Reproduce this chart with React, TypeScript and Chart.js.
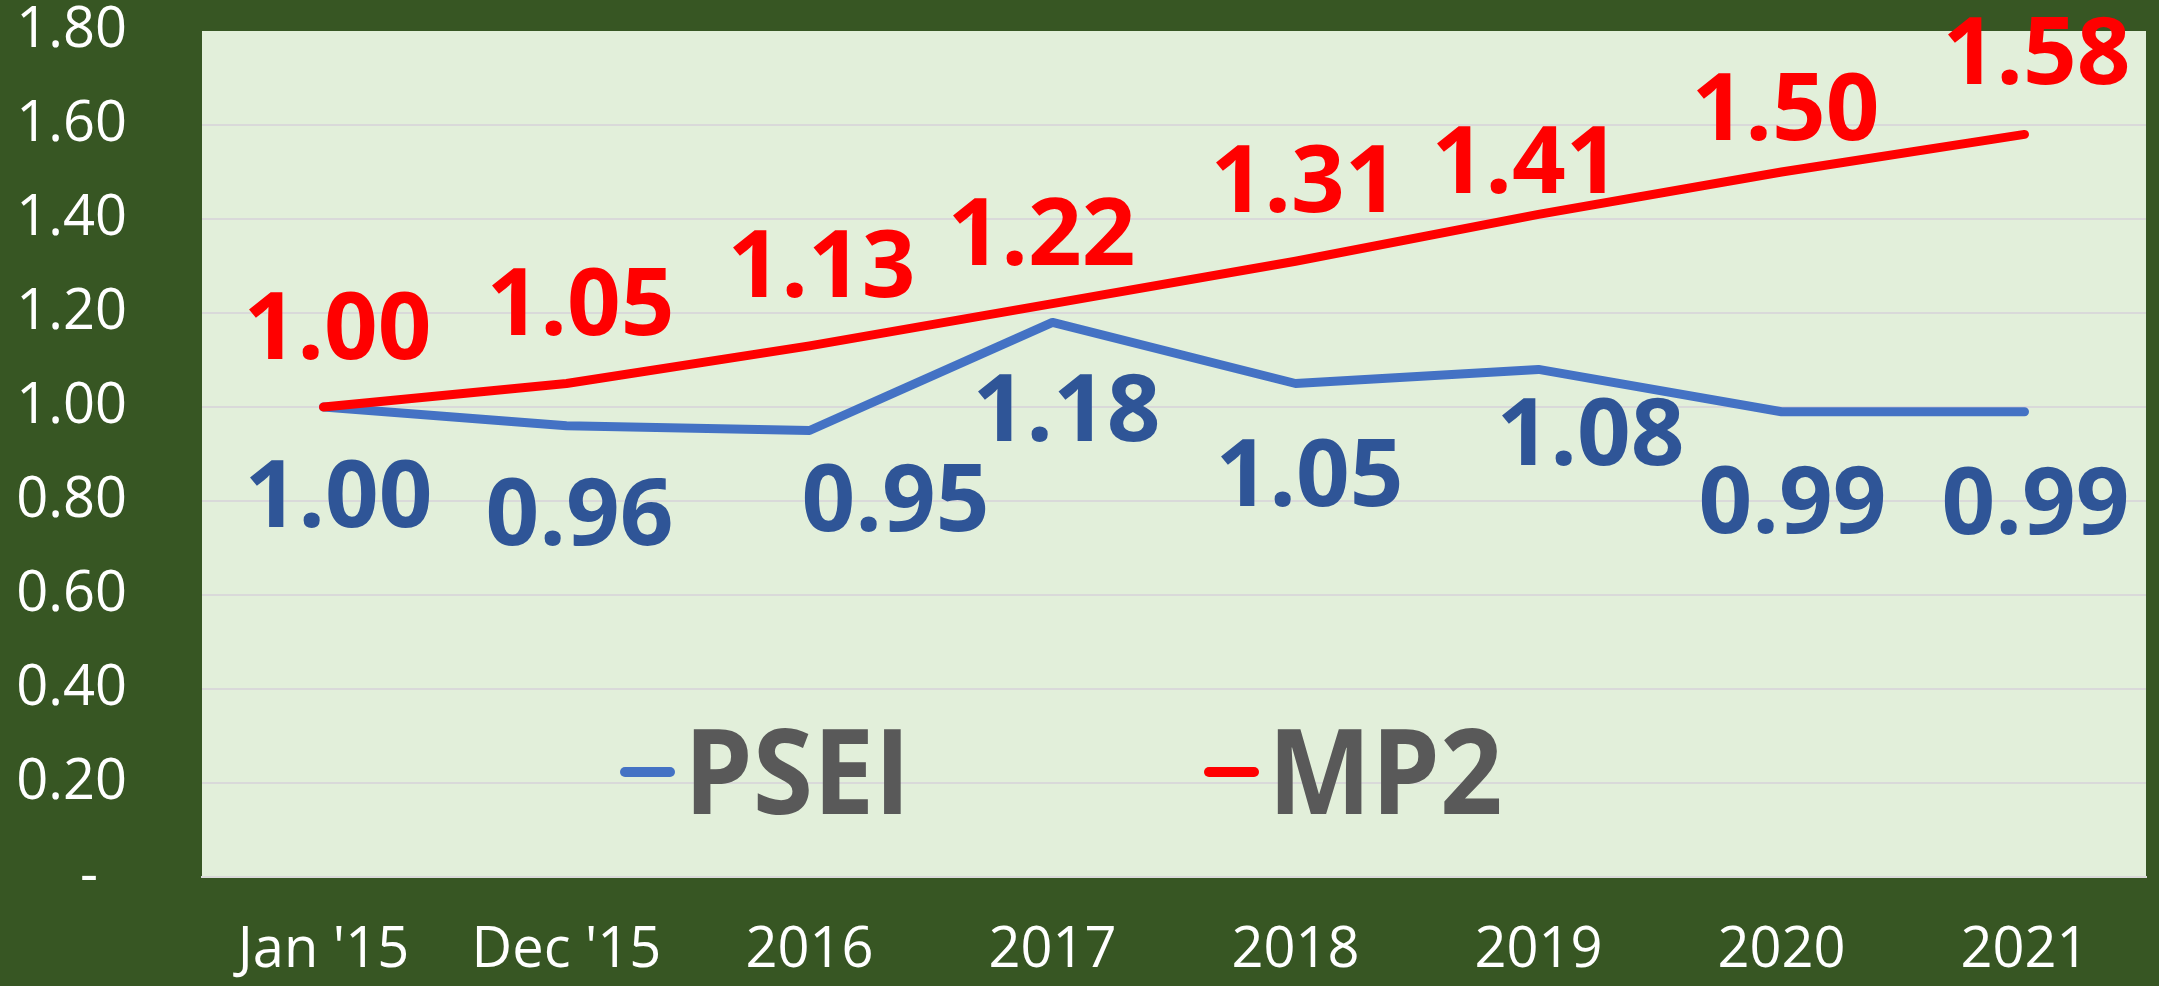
import React, { useEffect, useRef } from "react";
import { Chart, registerables } from "chart.js";

Chart.register(...registerables);

// ---- data ----
const categories = ["Jan '15", "Dec '15", "2016", "2017", "2018", "2019", "2020", "2021"];
const pseiValues = [1.0, 0.96, 0.95, 1.18, 1.05, 1.08, 0.99, 0.99];
const mp2Values = [1.0, 1.05, 1.13, 1.22, 1.31, 1.41, 1.5, 1.58];
const yTickValues = [0, 0.2, 0.4, 0.6, 0.8, 1.0, 1.2, 1.4, 1.6, 1.8];
const yTickLabels = ["-  ", "0.20", "0.40", "0.60", "0.80", "1.00", "1.20", "1.40", "1.60", "1.80"];
const seriesNames = ["PSEI", "MP2"];

// ---- style: label offsets (dx, dy of label centre from its point) ----
const pseiLabelOffsets = [[15, 86], [13, 85], [86, 66], [14, 85], [14, 88], [52, 62], [11, 87], [11, 88]];
const mp2LabelOffsets = [[14, -82], [14, -83], [12, -83], [-11, -73], [9, -83], [-13, -55], [4, -66], [12, -84]];

const FONT = "'Open Sans', sans-serif";
const DARK = "#375623";
const LIGHT = "#E2EFDA";
const GRID = "#D9D9D9";
const BLUE = "#4472C4";
const RED = "#FF0000";
const PSEI_LABEL = "#2F5597";

const bgPlugin = {
  id: "bgPlugin",
  beforeDraw(chart: any) {
    const { ctx, chartArea: a, width, height } = chart;
    ctx.save();
    ctx.fillStyle = DARK;
    ctx.fillRect(0, 0, width, height);
    ctx.fillStyle = LIGHT;
    ctx.fillRect(a.left, a.top, a.right - a.left, a.bottom - a.top);
    ctx.restore();
  },
};

const labelPlugin = {
  id: "labelPlugin",
  afterDatasetsDraw(chart: any) {
    const { ctx } = chart;
    const offsets = [pseiLabelOffsets, mp2LabelOffsets];
    const colors = [PSEI_LABEL, RED];
    ctx.save();
    ctx.font = `bold 94px ${FONT}`;
    ctx.textAlign = "center";
    ctx.textBaseline = "alphabetic";
    chart.data.datasets.forEach((ds: any, di: number) => {
      const meta = chart.getDatasetMeta(di);
      ctx.fillStyle = colors[di];
      meta.data.forEach((pt: any, i: number) => {
        const [dx, dy] = offsets[di][i];
        const text = Number(ds.data[i]).toFixed(2);
        ctx.fillText(text, pt.x + dx, pt.y + dy + 34);
      });
    });
    ctx.restore();
  },
};

const legendPlugin = {
  id: "legendPlugin",
  afterDraw(chart: any) {
    const { ctx, chartArea: a } = chart;
    const startX = a.left + 418;
    const cy = a.top + 741;
    const spacing = 584;
    ctx.save();
    chart.data.datasets.forEach((ds: any, i: number) => {
      const x = startX + i * spacing;
      ctx.strokeStyle = ds.borderColor;
      ctx.lineWidth = 10;
      ctx.lineCap = "round";
      ctx.beginPath();
      ctx.moveTo(x + 5, cy);
      ctx.lineTo(x + 50, cy);
      ctx.stroke();
      ctx.save();
      ctx.translate(x + 64, cy + 42);
      ctx.scale(0.92, 1);
      ctx.font = `bold 119px ${FONT}`;
      ctx.fillStyle = "#595959";
      ctx.textAlign = "left";
      ctx.textBaseline = "alphabetic";
      ctx.fillText(ds.label, 0, 0);
      ctx.restore();
    });
    ctx.restore();
  },
};

export default function App() {
  const canvasRef = useRef<HTMLCanvasElement | null>(null);

  useEffect(() => {
    document.body.style.margin = "0";
    document.body.style.overflow = "hidden";
    const canvas = canvasRef.current;
    if (!canvas) return;
    const chart = new Chart(canvas, {
      type: "line",
      data: {
        labels: categories,
        datasets: [
          {
            label: seriesNames[0],
            data: pseiValues,
            borderColor: BLUE,
            backgroundColor: BLUE,
            borderWidth: 9,
            pointRadius: 0,
            borderCapStyle: "round",
            borderJoinStyle: "round",
            tension: 0,
            order: 1,
          },
          {
            label: seriesNames[1],
            data: mp2Values,
            borderColor: RED,
            backgroundColor: RED,
            borderWidth: 9,
            pointRadius: 0,
            borderCapStyle: "round",
            borderJoinStyle: "round",
            tension: 0,
            order: 0,
          },
        ],
      },
      options: {
        animation: false,
        responsive: true,
        maintainAspectRatio: false,
        layout: { padding: { left: 0, top: 31, right: 13, bottom: 0 } },
        plugins: {
          legend: { display: false },
          tooltip: { enabled: false },
        },
        scales: {
          x: {
            offset: true,
            grid: { display: false, drawTicks: false },
            border: { display: true, color: GRID, width: 2 },
            ticks: {
              color: "#FFFFFF",
              font: { family: FONT, size: 56 },
              padding: 40,
              maxRotation: 0,
              autoSkip: false,
            },
            afterFit: (scale: any) => {
              scale.height = 109;
              scale.paddingLeft = 0;
              scale.paddingRight = 0;
            },
          },
          y: {
            min: 0,
            max: 1.8,
            grid: {
              color: (c: any) => (c.tick && c.tick.value >= 1.79 ? "rgba(0,0,0,0)" : GRID),
              lineWidth: 2,
              drawTicks: false,
            },
            border: { display: false },
            afterBuildTicks: (scale: any) => {
              scale.ticks = yTickValues.map((v) => ({ value: v }));
            },
            ticks: {
              color: "#FFFFFF",
              font: { family: FONT, size: 56 },
              padding: 75,
              callback: (v: any, i: number) => yTickLabels[i],
            },
            afterFit: (scale: any) => {
              scale.width = 202;
              scale.paddingTop = 0;
              scale.paddingBottom = 0;
            },
          },
        },
      },
      plugins: [bgPlugin, labelPlugin, legendPlugin],
    });
    return () => chart.destroy();
  }, []);

  return (
    <div style={{ width: "2159px", height: "986px", position: "relative" }}>
      <canvas ref={canvasRef} />
    </div>
  );
}
